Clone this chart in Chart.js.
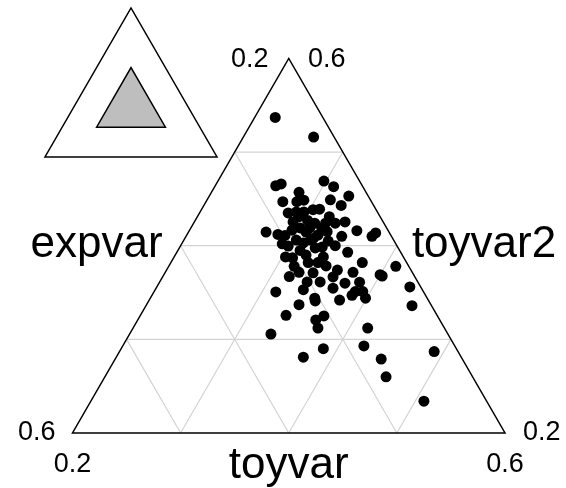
<!DOCTYPE html>
<html>
<head>
<meta charset="utf-8">
<script src="https://cdn.jsdelivr.net/npm/chart.js@4/dist/chart.umd.min.js"></script>
<style>
  html, body { margin: 0; padding: 0; background: #ffffff; }
  #wrap { width: 566px; height: 488px; position: relative; }
</style>
</head>
<body>
<div id="wrap"><canvas id="tern"></canvas></div>
<script>
// Compositions: each observation has a toyvar, toyvar2 and expvar share.
const toyvar = [
  0.219, 0.265, 0.256, 0.260, 0.298, 0.281, 0.310, 0.329, 0.271, 0.284,
  0.327, 0.282, 0.294, 0.303, 0.304, 0.312, 0.309, 0.322, 0.322, 0.331,
  0.339, 0.272, 0.284, 0.291, 0.321, 0.328, 0.344, 0.355, 0.372, 0.374,
  0.300, 0.312, 0.317, 0.321, 0.326, 0.332, 0.303, 0.310, 0.327, 0.336,
  0.337, 0.313, 0.337, 0.352, 0.338, 0.358, 0.377, 0.374, 0.358, 0.358,
  0.372, 0.364, 0.385, 0.386, 0.393, 0.400, 0.376, 0.410, 0.403, 0.434,
  0.341, 0.354, 0.335, 0.365, 0.370, 0.371, 0.331, 0.387, 0.373, 0.399,
  0.385, 0.446, 0.417, 0.423, 0.446, 0.491, 0.460, 0.508, 0.296, 0.301,
  0.309, 0.304, 0.295, 0.310, 0.319, 0.313, 0.321, 0.316, 0.324, 0.334,
  0.343, 0.345, 0.348, 0.336, 0.317, 0.314, 0.290, 0.291, 0.293, 0.289
];
const toyvar2 = [
  0.537, 0.516, 0.464, 0.466, 0.469, 0.457, 0.463, 0.453, 0.447, 0.447,
  0.443, 0.435, 0.431, 0.438, 0.427, 0.424, 0.439, 0.431, 0.424, 0.424,
  0.425, 0.415, 0.412, 0.411, 0.419, 0.415, 0.410, 0.416, 0.410, 0.414,
  0.400, 0.403, 0.406, 0.411, 0.398, 0.399, 0.388, 0.387, 0.382, 0.382,
  0.371, 0.351, 0.353, 0.344, 0.388, 0.393, 0.382, 0.372, 0.374, 0.367,
  0.360, 0.355, 0.361, 0.351, 0.351, 0.369, 0.342, 0.378, 0.368, 0.356,
  0.337, 0.341, 0.326, 0.321, 0.325, 0.312, 0.306, 0.290, 0.281, 0.344,
  0.347, 0.336, 0.312, 0.293, 0.279, 0.287, 0.260, 0.234, 0.436, 0.419,
  0.415, 0.406, 0.417, 0.419, 0.408, 0.395, 0.390, 0.378, 0.372, 0.405,
  0.400, 0.378, 0.361, 0.361, 0.367, 0.449, 0.449, 0.425, 0.402, 0.436
];
const expvar = [
  0.244, 0.219, 0.280, 0.274, 0.233, 0.262, 0.227, 0.218, 0.282, 0.269,
  0.230, 0.283, 0.275, 0.258, 0.269, 0.264, 0.252, 0.247, 0.254, 0.245,
  0.235, 0.314, 0.304, 0.298, 0.260, 0.257, 0.246, 0.229, 0.218, 0.213,
  0.301, 0.285, 0.277, 0.267, 0.277, 0.270, 0.309, 0.303, 0.291, 0.282,
  0.292, 0.337, 0.310, 0.304, 0.274, 0.249, 0.241, 0.255, 0.268, 0.276,
  0.268, 0.282, 0.254, 0.263, 0.256, 0.231, 0.282, 0.212, 0.230, 0.210,
  0.322, 0.305, 0.340, 0.315, 0.305, 0.317, 0.364, 0.323, 0.346, 0.257,
  0.268, 0.218, 0.271, 0.284, 0.275, 0.222, 0.280, 0.258, 0.268, 0.280,
  0.277, 0.290, 0.289, 0.271, 0.273, 0.292, 0.289, 0.306, 0.305, 0.261,
  0.257, 0.276, 0.290, 0.302, 0.316, 0.237, 0.262, 0.283, 0.305, 0.275
];

// Axis names and the plotted range of every component
const axisNames = ["toyvar", "toyvar2", "expvar"];
const rangeMin = 0.2;
const rangeMax = 0.6;
const gridValues = [0.3, 0.4, 0.5];
const tickLabels = ["0.2", "0.6"];

const span = rangeMax - rangeMin;

// Ternary -> plane: toyvar grows to the right corner, toyvar2 to the top corner.
function toPlane(t, t2, e) {
  const s = t + t2 + e;
  const ft = (t / s - rangeMin) / span;
  const fv = (t2 / s - rangeMin) / span;
  return { x: ft + 0.5 * fv, y: fv };
}
// Same mapping, from fractions of the zoomed triangle
function fracPoint(ft, fv) { return { x: ft + 0.5 * fv, y: fv }; }

const points = toyvar.map((t, i) => toPlane(t, toyvar2[i], expvar[i]));

const FONT = "'Liberation Sans', Arial, Helvetica, sans-serif";

const ternaryFrame = {
  id: 'ternaryFrame',
  beforeDatasetsDraw(chart) {
    const ctx = chart.ctx;
    const xs = chart.scales.x, ys = chart.scales.y;
    const P = (p) => [xs.getPixelForValue(p.x), ys.getPixelForValue(p.y)];

    // grid lines for each component
    ctx.save();
    ctx.strokeStyle = '#d3d3d3';
    ctx.lineWidth = 1.2;
    gridValues.forEach(g => {
      const f = (g - rangeMin) / span;
      const segs = [
        [fracPoint(0, f), fracPoint(1 - f, f)],        // constant toyvar2
        [fracPoint(f, 0), fracPoint(f, 1 - f)],        // constant toyvar
        [fracPoint(1 - f, 0), fracPoint(0, 1 - f)]     // constant expvar
      ];
      segs.forEach(([a, b]) => {
        const pa = P(a), pb = P(b);
        ctx.beginPath();
        ctx.moveTo(pa[0], pa[1]);
        ctx.lineTo(pb[0], pb[1]);
        ctx.stroke();
      });
    });

    // outer triangle
    const A = P(fracPoint(0, 0)), B = P(fracPoint(1, 0)), C = P(fracPoint(0, 1));
    ctx.strokeStyle = '#000000';
    ctx.lineWidth = 1.5;
    ctx.lineJoin = 'miter';
    ctx.beginPath();
    ctx.moveTo(A[0], A[1]); ctx.lineTo(B[0], B[1]); ctx.lineTo(C[0], C[1]); ctx.closePath();
    ctx.stroke();

    // tick labels at the corners
    ctx.fillStyle = '#000000';
    ctx.font = '27px ' + FONT;
    ctx.textBaseline = 'alphabetic';
    ctx.textAlign = 'center';
    ctx.fillText(tickLabels[0], A[0], A[1] + 39);
    ctx.fillText(tickLabels[1], B[0], B[1] + 39);
    ctx.textBaseline = 'middle';
    ctx.textAlign = 'right';
    ctx.fillText(tickLabels[1], A[0] - 17, A[1]);
    ctx.textAlign = 'left';
    ctx.fillText(tickLabels[0], B[0] + 18, B[1]);
    ctx.textBaseline = 'alphabetic';
    ctx.textAlign = 'center';
    ctx.fillText(tickLabels[0], C[0] - 39, C[1] + 9);
    ctx.fillText(tickLabels[1], C[0] + 38, C[1] + 9);

    // axis names
    ctx.font = '44px ' + FONT;
    ctx.textAlign = 'center';
    ctx.fillText(axisNames[0], (A[0] + B[0]) / 2, A[1] + 45);
    const midY = (A[1] + C[1]) / 2;
    ctx.textAlign = 'right';
    ctx.fillText(axisNames[2], (A[0] + C[0]) / 2 - 18, midY + 11);
    ctx.textAlign = 'left';
    ctx.fillText(axisNames[1], (B[0] + C[0]) / 2 + 15, midY + 11);

    // overview triangle with the zoomed region shaded
    const o = { L: [45, 157], R: [217, 157], T: [131, 8] };
    const bary = (t, t2, e) => [
      t * o.R[0] + t2 * o.T[0] + e * o.L[0],
      t * o.R[1] + t2 * o.T[1] + e * o.L[1]
    ];
    const r0 = rangeMin, r1 = rangeMax;
    const ir = bary(r1, r0, r0), it = bary(r0, r1, r0), il = bary(r0, r0, r1);
    ctx.lineWidth = 1.5;
    ctx.beginPath();
    ctx.moveTo(o.L[0], o.L[1]); ctx.lineTo(o.R[0], o.R[1]); ctx.lineTo(o.T[0], o.T[1]); ctx.closePath();
    ctx.stroke();
    ctx.fillStyle = '#bebebe';
    ctx.beginPath();
    ctx.moveTo(il[0], il[1]); ctx.lineTo(ir[0], ir[1]); ctx.lineTo(it[0], it[1]); ctx.closePath();
    ctx.fill();
    ctx.stroke();
    ctx.restore();
  }
};

new Chart(document.getElementById('tern'), {
  type: 'scatter',
  data: {
    datasets: [{
      data: points,
      pointRadius: 5.5,
      pointHoverRadius: 5.5,
      pointBackgroundColor: '#000000',
      pointBorderWidth: 0,
      borderColor: '#000000'
    }]
  },
  options: {
    responsive: true,
    maintainAspectRatio: false,
    animation: false,
    events: [],
    layout: { padding: { left: 72.5, right: 61, top: 58.4, bottom: 55 } },
    plugins: { legend: { display: false }, tooltip: { enabled: false } },
    scales: {
      x: { type: 'linear', min: 0, max: 1, display: false },
      y: { type: 'linear', min: 0, max: 1, display: false }
    }
  },
  plugins: [ternaryFrame]
});
</script>
</body>
</html>
